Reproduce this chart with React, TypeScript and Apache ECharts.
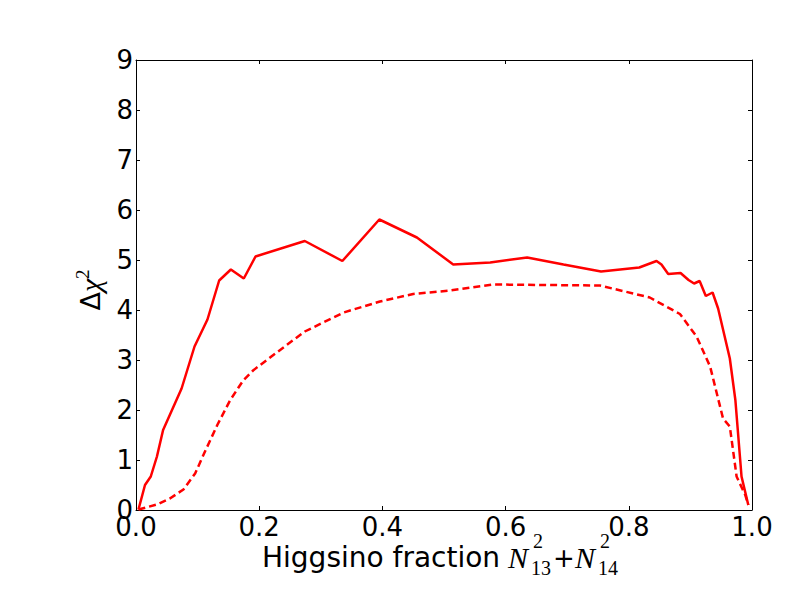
import React, { useEffect, useRef } from "react";
import * as echarts from "echarts";

const solidX = [0.004, 0.0146, 0.024, 0.034, 0.044, 0.074, 0.095, 0.116, 0.135, 0.154, 0.175, 0.194, 0.274, 0.335, 0.395, 0.456, 0.515, 0.575, 0.635, 0.694, 0.755, 0.817, 0.845, 0.853, 0.864, 0.884, 0.897, 0.906, 0.915, 0.925, 0.936, 0.945, 0.964, 0.973, 0.983, 0.994];
const solidY = [0.01, 0.5, 0.67, 1.07, 1.6, 2.43, 3.27, 3.81, 4.59, 4.81, 4.63, 5.07, 5.38, 4.98, 5.81, 5.45, 4.91, 4.95, 5.05, 4.91, 4.77, 4.85, 4.98, 4.91, 4.72, 4.74, 4.6, 4.53, 4.58, 4.28, 4.35, 4.03, 3.03, 2.2, 0.67, 0.1];

const dashedX = [0.004, 0.034, 0.055, 0.077, 0.096, 0.112, 0.132, 0.153, 0.174, 0.19, 0.223, 0.274, 0.337, 0.396, 0.45, 0.51, 0.58, 0.753, 0.834, 0.883, 0.91, 0.932, 0.953, 0.964, 0.975, 0.989, 0.994];
const dashedY = [0.01, 0.11, 0.23, 0.41, 0.73, 1.17, 1.7, 2.2, 2.59, 2.79, 3.1, 3.57, 3.95, 4.17, 4.32, 4.39, 4.51, 4.49, 4.25, 3.92, 3.47, 2.87, 1.83, 1.67, 0.67, 0.3, 0.1];

const xTickLabels = ["0.0", "0.2", "0.4", "0.6", "0.8", "1.0"];
const yTickLabels = ["0", "1", "2", "3", "4", "5", "6", "7", "8", "9"];

const FONT = "DejaVu Sans";
const MATH = "Liberation Serif";

export default function App() {
  const ref = useRef<HTMLDivElement>(null);
  useEffect(() => {
    if (!ref.current) return;
    const chart = echarts.init(ref.current, undefined, { renderer: "svg" });
    const solid = solidX.map((x, i) => [x, solidY[i]]);
    const dashed = dashedX.map((x, i) => [x, dashedY[i]]);
    const tickStyle = { show: true, inside: true, length: 4, lineStyle: { color: "#000", width: 1 } };
    const lineStyle = { color: "#000", width: 1 };
    const mathText = (text: string, x: number, y: number, size: number, italic: boolean, family = MATH, lh?: number) => ({
      type: "text", x, y,
      style: {
        text, fontFamily: family, fontStyle: italic ? "italic" : "normal", fontSize: size,
        fill: "#000", textAlign: "left", textVerticalAlign: "middle",
        ...(lh ? { lineHeight: lh } : {}),
      },
    });
    const option: any = {
      animation: false,
      backgroundColor: "#fff",
      grid: { left: 136, top: 60, right: 48, bottom: 90, containLabel: false, show: false },
      xAxis: [
        {
          type: "value", min: 0, max: 1, interval: 0.2, position: "bottom",
          axisLine: { show: true, onZero: false, lineStyle },
          axisTick: tickStyle,
          splitLine: { show: false },
          axisLabel: {
            color: "#000", fontSize: 26, fontFamily: FONT, margin: 4,
            formatter: (v: number) => xTickLabels[Math.round(v / 0.2)] ?? "",
          },
        },
        {
          type: "value", min: 0, max: 1, interval: 0.2, position: "top",
          axisLine: { show: true, onZero: false, lineStyle },
          axisTick: tickStyle, splitLine: { show: false }, axisLabel: { show: false },
        },
      ],
      yAxis: [
        {
          type: "value", min: 0, max: 9, interval: 1, position: "left",
          axisLine: { show: true, onZero: false, lineStyle },
          axisTick: tickStyle,
          splitLine: { show: false },
          axisLabel: {
            color: "#000", fontSize: 26, fontFamily: FONT, margin: 3,
            formatter: (v: number) => yTickLabels[Math.round(v)] ?? "",
          },
        },
        {
          type: "value", min: 0, max: 9, interval: 1, position: "right",
          axisLine: { show: true, onZero: false, lineStyle },
          axisTick: tickStyle, splitLine: { show: false }, axisLabel: { show: false },
        },
      ],
      series: [
        {
          type: "line", data: solid, showSymbol: false, symbol: "none",
          lineStyle: { color: "#ff0000", width: 2.5, type: "solid" },
        },
        {
          type: "line", data: dashed, showSymbol: false, symbol: "none",
          lineStyle: { color: "#ff0000", width: 2.5, type: [7, 4] },
        },
      ],
      graphic: [
        {
          type: "text", x: 90, y: 290, rotation: Math.PI / 2,
          style: {
            text: "{a|Δ}{b|χ}{s|2}", textAlign: "center", textVerticalAlign: "middle",
            rich: {
              a: { fontFamily: FONT, fontSize: 27, fill: "#000" },
              b: { fontFamily: MATH, fontStyle: "italic", fontSize: 30, fill: "#000" },
              s: { fontFamily: MATH, fontSize: 19, fill: "#000", verticalAlign: "top", padding: [0, 0, 16, 0] },
            },
          },
        },
        { type: "text", x: 262, y: 557, style: { text: "Higgsino fraction", fontFamily: FONT, fontSize: 28, fill: "#000", textAlign: "left", textVerticalAlign: "middle" } },
        mathText("N", 508, 557, 30, true),
        mathText("2", 533, 541, 20, false, MATH, 14),
        mathText("13", 531, 568, 20, false, MATH, 14),
        mathText("+", 553, 558, 26, false, FONT),
        mathText("N", 575, 557, 30, true),
        mathText("2", 600, 541, 20, false, MATH, 14),
        mathText("14", 598, 568, 20, false, MATH, 14),
      ],
    };
    chart.setOption(option);
    return () => chart.dispose();
  }, []);
  return <div ref={ref} style={{ position: "absolute", left: 0, top: 0, width: 800, height: 600 }} />;
}
